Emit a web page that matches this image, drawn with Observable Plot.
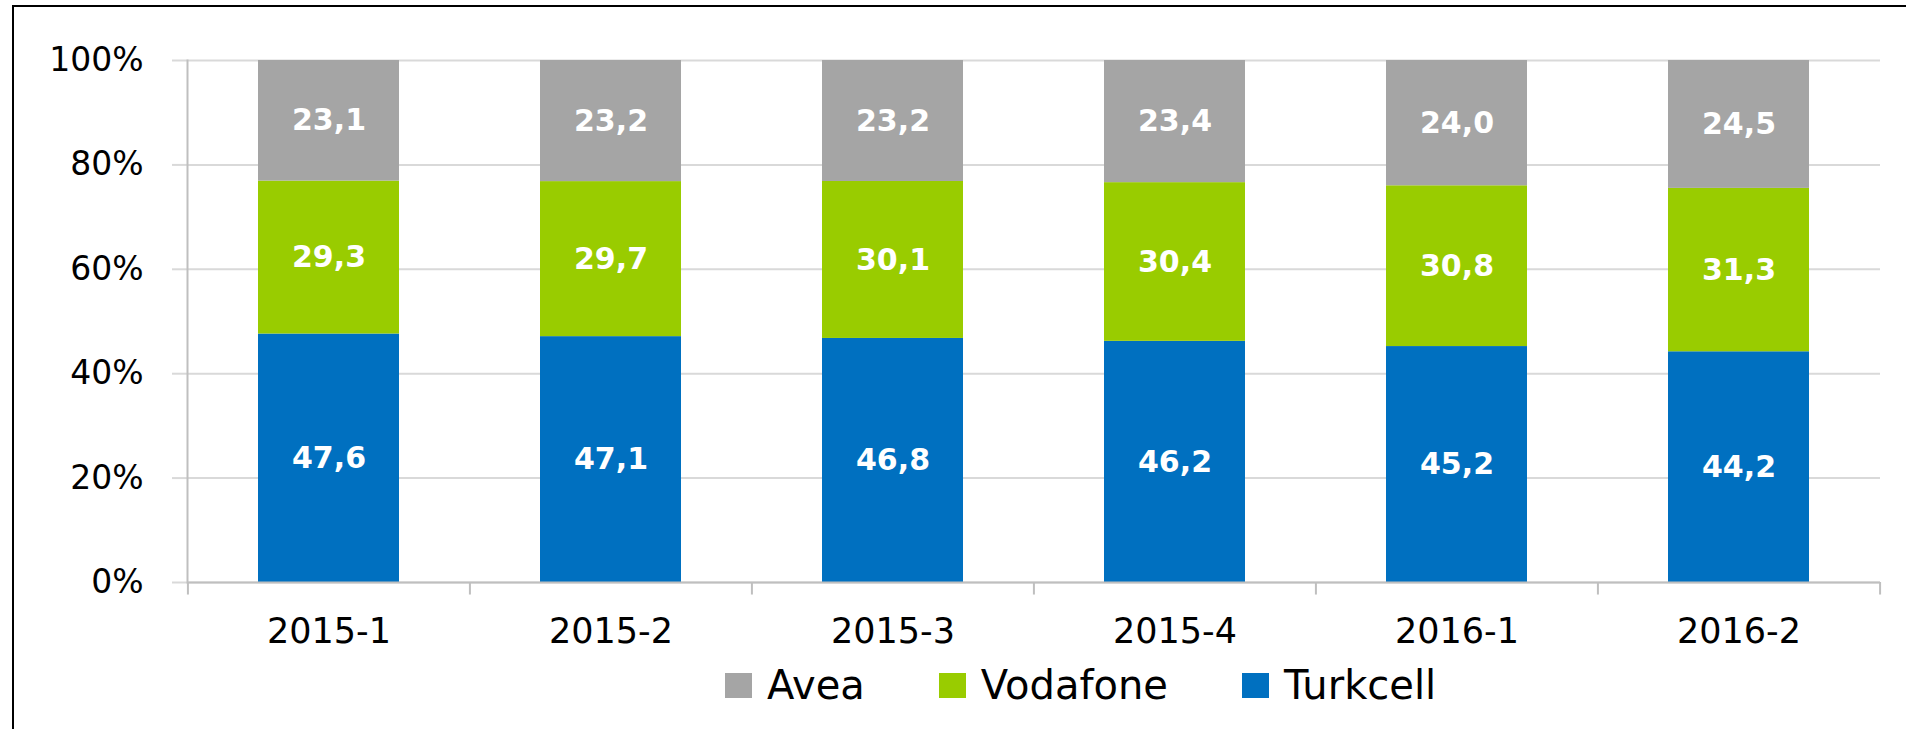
<!DOCTYPE html>
<html>
<head>
<meta charset="utf-8">
<script src="https://cdn.jsdelivr.net/npm/d3@7"></script>
<script src="https://cdn.jsdelivr.net/npm/@observablehq/plot@0.6"></script>
<style>
  html, body { margin: 0; padding: 0; background: #fff; overflow: hidden; width: 1906px; height: 729px; }
  #frame { position: absolute; left: 12px; top: 5px; width: 2000px; height: 1000px; border-left: 2px solid #000; border-top: 2px solid #000; }
  #chart { position: absolute; left: 0; top: 0; }
  #legend { position: absolute; left: 725px; top: 662px; display: flex; align-items: center; font-family: "DejaVu Sans", Verdana, sans-serif; font-size: 40px; color: #000; }
  .item { display: flex; align-items: center; margin-right: 74px; }
  .item:last-child { margin-right: 0; }
  .sw { width: 27px; height: 25px; margin-right: 15px; }
</style>
</head>
<body>
<div id="frame"></div>
<div id="chart"></div>
<div id="legend"></div>
<script>
const periods = ["2015-1", "2015-2", "2015-3", "2015-4", "2016-1", "2016-2"];
const companies = ["Turkcell", "Vodafone", "Avea"];
const legendOrder = ["Avea", "Vodafone", "Turkcell"];
const colors = ["#0070c0", "#99cc00", "#a5a5a5"];
const turkcell = [47.6, 47.1, 46.8, 46.2, 45.2, 44.2];
const vodafone = [29.3, 29.7, 30.1, 30.4, 30.8, 31.3];
const avea = [23.1, 23.2, 23.2, 23.4, 24.0, 24.5];
const yTicks = [0, 0.2, 0.4, 0.6, 0.8, 1];

const series = {Turkcell: turkcell, Vodafone: vodafone, Avea: avea};
const data = [];
for (const c of companies) {
  periods.forEach((p, i) => data.push({period: p, company: c, value: series[c][i]}));
}

const W = 1906, H = 660, mL = 187, mR = 26, mT = 60, mB = 78;
const step = (W - mL - mR) / periods.length;
const fmt = v => v.toFixed(1).replace(".", ",");

const stackOpts = {x: "period", y: "value", z: "company", order: companies, offset: "normalize"};

const chart = Plot.plot({
  width: W,
  height: H,
  marginLeft: mL,
  marginRight: mR,
  marginTop: mT,
  marginBottom: mB,
  style: {fontFamily: "'DejaVu Sans', Verdana, sans-serif", background: "transparent", overflow: "visible"},
  x: {domain: periods, paddingInner: 0.5, paddingOuter: 0.25, label: null},
  y: {domain: [0, 1], label: null},
  color: {domain: companies, range: colors},
  marks: [
    Plot.gridY(yTicks, {stroke: "#d9d9d9", strokeOpacity: 1, strokeWidth: 2}),
    Plot.axisY(yTicks, {tickFormat: d3.format(".0%"), tickSize: 15, tickPadding: 29, stroke: "#d9d9d9", strokeWidth: 2, fontSize: 33, fill: "#000", label: null}),
    Plot.barY(data, Plot.stackY({...stackOpts, fill: "company", inset: 0})),
    Plot.text(data, Plot.stackY({...stackOpts, text: d => fmt(d.value), fill: "#fff", fontSize: 30, fontWeight: "bold"})),
    Plot.frame({anchor: "left", stroke: "#bfbfbf", strokeWidth: 2}),
    Plot.ruleY([0], {stroke: "#bfbfbf", strokeWidth: 2}),
    Plot.ruleX(periods, {x: d => d, dx: -step / 2, y1: 0, y2: -0.024, stroke: "#bfbfbf", strokeWidth: 2}),
    Plot.ruleX(periods.slice(-1), {x: d => d, dx: step / 2, y1: 0, y2: -0.024, stroke: "#bfbfbf", strokeWidth: 2}),
    Plot.axisX({tickSize: 0, tickPadding: 36, fontSize: 35, fill: "#000", label: null})
  ]
});
document.getElementById("chart").appendChild(chart);

const legend = document.getElementById("legend");
for (const name of legendOrder) {
  const item = document.createElement("div");
  item.className = "item";
  const sw = document.createElement("div");
  sw.className = "sw";
  sw.style.background = colors[companies.indexOf(name)];
  const label = document.createElement("span");
  label.textContent = name;
  item.appendChild(sw);
  item.appendChild(label);
  legend.appendChild(item);
}
</script>
</body>
</html>
